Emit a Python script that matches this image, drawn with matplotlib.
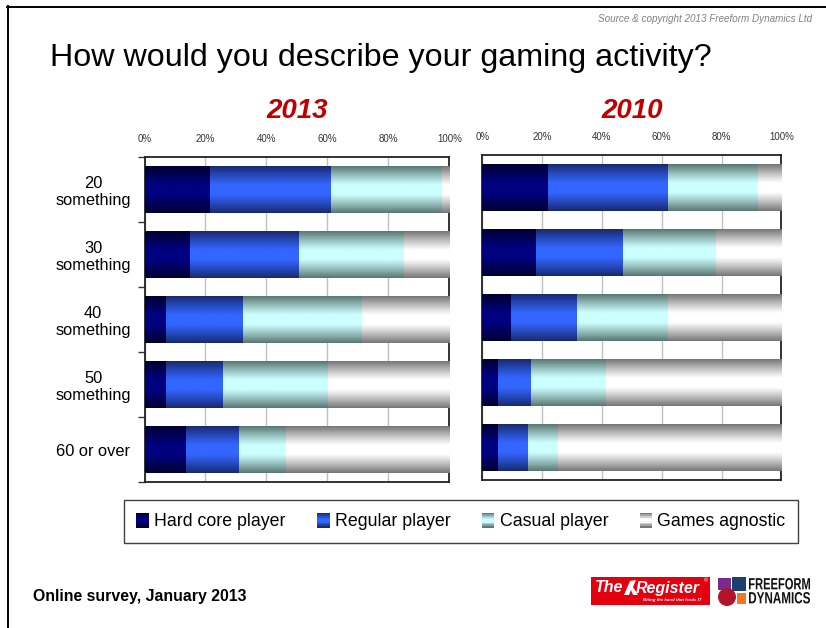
import numpy as np
import matplotlib
matplotlib.use("Agg")
import matplotlib.pyplot as plt
from matplotlib.patches import Patch, Rectangle, Circle, PathPatch, Polygon
from matplotlib.legend_handler import HandlerBase
from matplotlib.lines import Line2D
from matplotlib.textpath import TextPath
from matplotlib.font_manager import FontProperties
from matplotlib.transforms import Affine2D

plt.rcParams['font.family'] = ['Liberation Sans', 'DejaVu Sans']

# Datos de la encuesta (porcentaje por grupo de edad)
categorias = ['20\nsomething', '30\nsomething', '40\nsomething', '50\nsomething', '60 or over']
series = ['Hard core player', 'Regular player', 'Casual player', 'Games agnostic']

hard_2013 = [21.5, 14.9, 6.9, 6.9, 13.5]
regular_2013 = [39.7, 35.8, 25.4, 18.8, 17.5]
casual_2013 = [36.4, 34.4, 39.0, 34.5, 15.4]
agnostic_2013 = [2.4, 14.9, 28.7, 39.8, 53.6]

hard_2010 = [22.0, 17.9, 9.6, 5.2, 5.2]
regular_2010 = [40.1, 29.1, 22.1, 11.1, 10.1]
casual_2010 = [30.1, 31.1, 30.4, 25.1, 10.0]
agnostic_2010 = [7.8, 21.9, 37.9, 58.6, 74.7]

x_ticks = [0, 20, 40, 60, 80, 100]
x_labels = ['0%', '20%', '40%', '60%', '80%', '100%']

# colores (borde, centro) para el degradado de cada serie
colores = [('#000030', '#000080'),
           ('#182a70', '#3366ff'),
           ('#5a7874', '#ccffff'),
           ('#777777', '#ffffff')]


def degradado(borde, centro, n=64):
    b = np.array(matplotlib.colors.to_rgb(borde))
    c = np.array(matplotlib.colors.to_rgb(centro))
    t = np.linspace(0, 1, n)
    d = np.abs(t - 0.5) * 2
    w = np.clip((d - 0.2) / 0.8, 0, 1) ** 1.1
    return c[None, :] * (1 - w[:, None]) + b[None, :] * w[:, None]


class HandlerDegradado(HandlerBase):
    def __init__(self, borde, centro):
        super().__init__()
        self.borde = borde
        self.centro = centro

    def create_artists(self, legend, orig_handle, xdescent, ydescent,
                       width, height, fontsize, trans):
        filas = degradado(self.borde, self.centro, 9)
        h = height / len(filas)
        arts = []
        for i, col in enumerate(filas):
            r = Rectangle((-xdescent, -ydescent + height - (i + 1) * h), width, h * 1.02,
                          facecolor=col, edgecolor='none', transform=trans)
            arts.append(r)
        return arts


def texto_estrecho(ax, s, x, y, ancho, alto, color):
    # texto comprimido a lo ancho usando el contorno de las letras
    fp = FontProperties(family='Liberation Sans', weight='bold')
    tp = TextPath((0, 0), s, size=10, prop=fp)
    ext = tp.get_extents()
    tr = Affine2D().translate(-ext.x0, -ext.y0).scale(ancho / ext.width, -alto / ext.height) \
        .translate(x, y + alto)
    ax.add_patch(PathPatch(tr.transform_path(tp), facecolor=color, edgecolor='none'))


fig = plt.figure(figsize=(8.26, 6.28), dpi=100)

# capa de fondo en pixeles para marco, textos y logos
bg = fig.add_axes([0, 0, 1, 1])
bg.set_xlim(0, 826)
bg.set_ylim(628, 0)
bg.axis('off')
bg.add_line(Line2D([7, 826], [6.5, 6.5], color='black', lw=1.4))
bg.add_line(Line2D([7.5, 7.5], [6, 628], color='black', lw=1.4))
bg.text(812, 19, 'Source & copyright 2013 Freeform Dynamics Ltd', ha='right', va='center',
        fontsize=7.1, style='italic', color='#808080')
bg.text(50, 58, 'How would you describe your gaming activity?', ha='left', va='center',
        fontsize=23.2, color='black')
bg.text(33, 597, 'Online survey, January 2013', ha='left', va='center',
        fontsize=11.4, fontweight='bold', color='black')

# logo The Register
bg.add_patch(Rectangle((591, 577), 119, 28, facecolor='#e3000f', edgecolor='none'))
bg.text(595, 588, 'The', ha='left', va='center', fontsize=11.5,
        fontweight='bold', style='italic', color='white')
bg.add_patch(Polygon([[624, 595], [630, 581], [636, 580], [633, 587], [638, 595], [633, 595],
                      [631, 590], [629, 595]], closed=True, facecolor='white', edgecolor='none'))
bg.text(636, 588, 'Register', ha='left', va='center', fontsize=11.5,
        fontweight='bold', style='italic', color='white')
bg.text(708, 581, '®', ha='right', va='center', fontsize=4, color='white')
bg.text(672, 600.5, 'Biting the hand that feeds IT', ha='center', va='center',
        fontsize=3.2, style='italic', fontweight='bold', color='white')

# logo Freeform Dynamics
bg.add_patch(Rectangle((718, 578), 13, 12, facecolor='#7a2a8a', edgecolor='none'))
bg.add_patch(Rectangle((732, 577), 14, 14, facecolor='#1c3f6e', edgecolor='none'))
bg.add_patch(Circle((727, 597), 9, facecolor='#b3142c', edgecolor='none'))
bg.add_patch(Rectangle((737, 593), 9, 11, facecolor='#f07820', edgecolor='none'))
texto_estrecho(bg, 'FREEFORM', 749, 578, 61, 11.5, '#111111')
texto_estrecho(bg, 'DYNAMICS', 749, 592, 61, 11.5, '#111111')

ax1 = fig.add_axes([144.5 / 826, 146 / 628, 304.8 / 826, 325 / 628])
ax2 = fig.add_axes([482.3 / 826, 148 / 628, 299 / 826, 325 / 628])

datos = [(ax1, '2013', [hard_2013, regular_2013, casual_2013, agnostic_2013]),
         (ax2, '2010', [hard_2010, regular_2010, casual_2010, agnostic_2010])]

y = np.arange(len(categorias))
for ax, anio, valores in datos:
    izquierda = np.zeros(len(categorias))
    for serie, vals, (borde, centro) in zip(series, valores, colores):
        barras = ax.barh(y, vals, left=izquierda, height=0.72, color=centro,
                         edgecolor='none', zorder=2, label=serie)
        grad = degradado(borde, centro)[:, None, :]
        for p in barras.patches:
            x0, y0 = p.get_x(), p.get_y()
            ax.imshow(grad, extent=(x0, x0 + p.get_width(), y0 + p.get_height(), y0),
                      aspect='auto', interpolation='bilinear', zorder=3)
        izquierda += np.array(vals)

    ax.set_xlim(0, 100)
    ax.set_ylim(4.5, -0.5)
    ax.xaxis.tick_top()
    ax.set_xticks(x_ticks)
    ax.set_xticklabels(x_labels)
    ax.tick_params(axis='x', length=0, pad=9, labelsize=7, labelcolor='#333333')
    ax.grid(axis='x', color='#c0c0c0', lw=1, zorder=0)
    ax.set_axisbelow(True)
    for lado in ['top', 'left', 'right', 'bottom']:
        ax.spines[lado].set_linewidth(1.3)
        ax.spines[lado].set_color('#222222')

ax1.set_title('2013', fontsize=20, fontweight='bold', style='italic', color='#c00000', pad=28)
ax2.set_title('2010', fontsize=20, fontweight='bold', style='italic', color='#c00000', pad=26.6)

# etiquetas de categorias solo en el grafico de la izquierda
ax1.set_yticks(y)
ax1.set_yticklabels(categorias, ha='center', multialignment='center', fontsize=11.8)
ax1.tick_params(axis='y', which='major', length=0, pad=37)
ax1.set_yticks(np.arange(-0.5, 5, 1), minor=True)
ax1.tick_params(axis='y', which='minor', length=5, width=1, color='#333333')
ax2.set_yticks([])

# leyenda
handles = [Patch(label=s) for s in series]
hmap = {h: HandlerDegradado(b, c) for h, (b, c) in zip(handles, colores)}
leg = fig.legend(handles=handles, handler_map=hmap, loc='center', ncol=4, mode='expand',
                 bbox_to_anchor=(124 / 826, 1 - 543 / 628, 674 / 826, 43 / 628),
                 fontsize=12.8, frameon=True, fancybox=False, edgecolor='#404040',
                 framealpha=1, handlelength=0.7, handleheight=0.9, handletextpad=0.3,
                 borderpad=0.7, borderaxespad=0)
leg.get_frame().set_linewidth(1)

fig.savefig('out.png', dpi=100)
